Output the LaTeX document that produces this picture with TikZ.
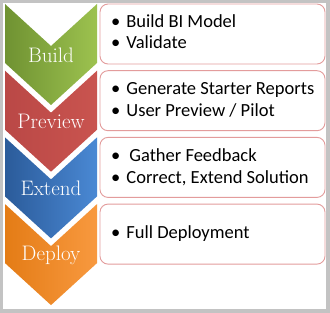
\documentclass[tikz,border=0pt]{standalone}
\usepackage{fontspec}
\newfontfamily\boxfont{Carlito}
\usetikzlibrary{positioning}
\definecolor{bgreen}{HTML}{9DC24F}
\definecolor{bgreendk}{HTML}{6F9232}
\definecolor{pred}{HTML}{C9544F}
\definecolor{preddk}{HTML}{BA4846}
\definecolor{eblue}{HTML}{4A89D4}
\definecolor{ebluedk}{HTML}{2B5B9A}
\definecolor{dorange}{HTML}{F8993F}
\definecolor{dorangedk}{HTML}{E47C16}
\definecolor{boxedge}{HTML}{E39C9C}
\definecolor{framegray}{HTML}{C3C3C3}

\begin{document}
\begin{tikzpicture}[
  x=1pt, y=-1pt,
  stepbox/.style={
    draw=boxedge, line width=0.9pt, fill=white, rounded corners=8pt,
    minimum width=225pt, minimum height=60pt, inner sep=0pt
  },
  phase/.style={
    font=\fontsize{21}{24}\selectfont, text=white, align=center
  },
  item/.style={
    font=\boxfont\fontsize{18.5}{22}\selectfont, text=black, anchor=base west,
    inner sep=0pt
  },
]

% Frame
\fill[framegray] (0,0) rectangle (330,313);
\fill[white] (3,3) rectangle (326,309);

% ---- Chevrons ----
\foreach \i/\cdark/\clight/\lbl in {0/bgreendk/bgreen/Build, 1/preddk/pred/Preview,
    2/ebluedk/eblue/Extend, 3/dorangedk/dorange/Deploy} {
  \pgfmathsetmacro{\t}{4+66.7*\i}
  \shade[left color=\cdark, right color=\clight]
    (5,\t) -- (51,\t+42) -- (97,\t) -- (97,\t+59) -- (51,\t+101) -- (5,\t+59) -- cycle;
  \node[phase] (phase\i) at (51,\t+51) {\lbl};
}

% ---- Step boxes ----
\foreach \i in {0,...,3} {
  \node[stepbox] (box\i) at (212.5,34+66.7*\i) {};
}

% ---- Bullet items ----
\node[item] (item0a) at (111,28)    {\textbullet\hspace{6pt}Build BI Model};
\node[item] (item0b) at (111,49)    {\textbullet\hspace{6pt}Validate};
\node[item] (item1a) at (111,94.7)  {\textbullet\hspace{6pt}Generate Starter Reports};
\node[item] (item1b) at (111,116.7) {\textbullet\hspace{6pt}User Preview / Pilot};
\node[item] (item2a) at (111,161.4) {\textbullet\hspace{9pt}Gather Feedback};
\node[item] (item2b) at (111,183.4) {\textbullet\hspace{6pt}Correct, Extend Solution};
\node[item] (item3a) at (111,238)   {\textbullet\hspace{6pt}Full Deployment};

\end{tikzpicture}
\end{document}
